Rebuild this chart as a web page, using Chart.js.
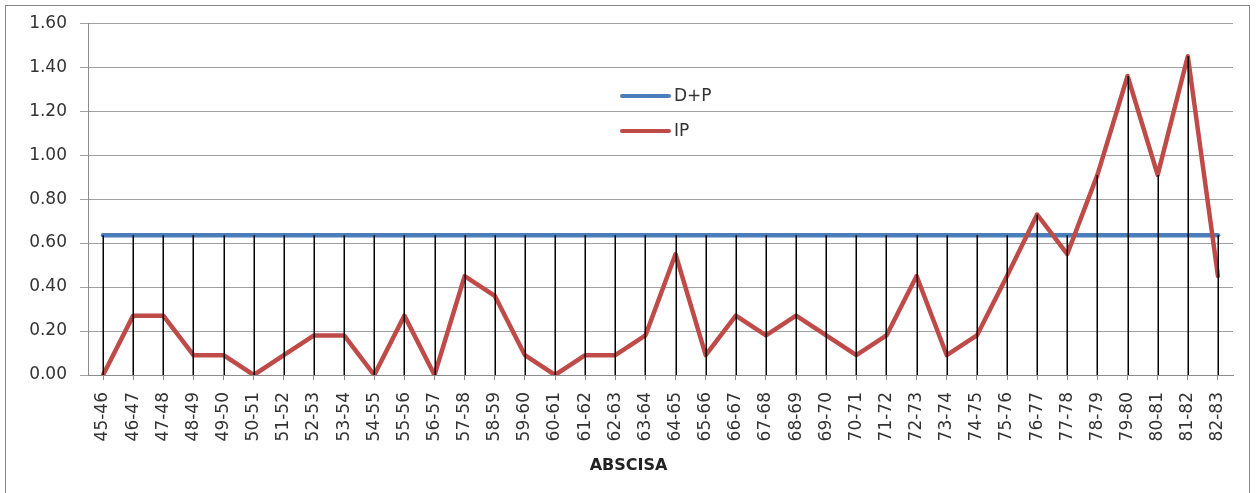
<!DOCTYPE html>
<html>
<head>
<meta charset="utf-8">
<script src="https://cdn.jsdelivr.net/npm/chart.js@4"></script>
<style>
  html, body { margin: 0; padding: 0; background: #fff; overflow: hidden; }
  #wrap { position: relative; width: 1257px; height: 493px; }
  #frame { position: absolute; left: 5px; top: 5px; width: 1243px; height: 500px; border: 1px solid #878787; }
  canvas { position: absolute; left: 0; top: 0; }
  .leg { position: absolute; left: 620px; font: 17px "DejaVu Sans", sans-serif; color: #333; }
  .leg span.sw { position: absolute; left: 0; width: 51px; height: 4px; border-radius: 2px; }
  .leg span.tx { position: absolute; left: 54px; top: -11px; white-space: nowrap; }
  #xtitle { position: absolute; top: 455px; left: 0; width: 1257px; text-align: center;
            font: bold 16px "DejaVu Sans", sans-serif; color: #222; }
</style>
</head>
<body>
<div id="wrap">
  <div id="frame"></div>
  <canvas id="abscisa" width="1257" height="493"></canvas>
  <div id="legend"></div>
  <div id="xtitle">ABSCISA</div>
</div>
<script>
// D+P frente a IP por tramo de abscisa

const tramos = [
  '45-46', '46-47', '47-48', '48-49', '49-50', '50-51', '51-52', '52-53', '53-54', '54-55',
  '55-56', '56-57', '57-58', '58-59', '59-60', '60-61', '61-62', '62-63', '63-64', '64-65',
  '65-66', '66-67', '67-68', '68-69', '69-70', '70-71', '71-72', '72-73', '73-74', '74-75',
  '75-76', '76-77', '77-78', '78-79', '79-80', '80-81', '81-82', '82-83'
];

const dp = [
  0.636, 0.636, 0.636, 0.636, 0.636, 0.636, 0.636, 0.636, 0.636, 0.636,
  0.636, 0.636, 0.636, 0.636, 0.636, 0.636, 0.636, 0.636, 0.636, 0.636,
  0.636, 0.636, 0.636, 0.636, 0.636, 0.636, 0.636, 0.636, 0.636, 0.636,
  0.636, 0.636, 0.636, 0.636, 0.636, 0.636, 0.636, 0.636
];

const ip = [
  0.00, 0.27, 0.27, 0.09, 0.09, 0.00, 0.09, 0.18, 0.18, 0.00,
  0.27, 0.00, 0.45, 0.36, 0.09, 0.00, 0.09, 0.09, 0.18, 0.55,
  0.09, 0.27, 0.18, 0.27, 0.18, 0.09, 0.18, 0.45, 0.09, 0.18,
  0.45, 0.73, 0.55, 0.91, 1.36, 0.91, 1.45, 0.45
];

const yTicks = [0, 0.2, 0.4, 0.6, 0.8, 1.0, 1.2, 1.4, 1.6];

// lineas de caida (negras) desde el punto mas alto hasta el eje
const dropLines = {
  id: 'dropLines',
  afterDatasetsDraw(chart) {
    const ctx = chart.ctx;
    const x = chart.scales.x, y = chart.scales.y;
    ctx.save();
    ctx.strokeStyle = '#000';
    ctx.lineWidth = 1.5;
    tramos.forEach((t, i) => {
      const top = Math.max(dp[i], ip[i]);
      const px = Math.round(x.getPixelForValue(i)) + 0.25;
      ctx.beginPath();
      ctx.moveTo(px, y.getPixelForValue(top));
      ctx.lineTo(px, y.getPixelForValue(0));
      ctx.stroke();
    });
    ctx.restore();
  }
};

const el = document.getElementById('abscisa');

const chart = new Chart(el, {
  type: 'line',
  data: {
    labels: tramos,
    datasets: [
      { label: 'D+P', data: dp, borderColor: '#4A7EBB', backgroundColor: '#4A7EBB', borderWidth: 4.5, order: 1 },
      { label: 'IP', data: ip, borderColor: '#BE4B48', backgroundColor: '#BE4B48', borderWidth: 4.5, order: 0 }
    ]
  },
  options: {
    responsive: false,
    animation: false,
    events: [],
    elements: {
      point: { radius: 0 },
      line: { tension: 0, borderCapStyle: 'round', borderJoinStyle: 'round' }
    },
    layout: { padding: { top: 22, right: 24, left: 0, bottom: 0 } },
    plugins: { legend: { display: false }, tooltip: { enabled: false } },
    scales: {
      x: {
        offset: true,
        grid: { display: true, drawOnChartArea: false, offset: false, color: '#8c8c8c', tickLength: 5 },
        border: { color: '#8c8c8c' },
        ticks: {
          autoSkip: false, minRotation: 90, maxRotation: 90, padding: 12,
          color: '#333', font: { family: 'DejaVu Sans', size: 17 }
        },
        afterFit(s) { s.height = 118; }
      },
      y: {
        min: 0, max: 1.6,
        afterBuildTicks(s) { s.ticks = yTicks.map(v => ({ value: v })); },
        grid: { color: '#a0a0a0', tickLength: 8 },
        border: { color: '#8c8c8c' },
        ticks: {
          padding: 13, color: '#333', font: { family: 'DejaVu Sans', size: 17 },
          callback: v => Number(v).toFixed(2)
        },
        afterFit(s) { s.width = 88; }
      }
    }
  },
  plugins: [dropLines]
});

// leyenda dentro del area del grafico
const legend = document.getElementById('legend');
[[0, 96], [1, 131]].forEach(([k, top]) => {
  const ds = chart.data.datasets[k];
  const d = document.createElement('div');
  d.className = 'leg';
  d.style.top = top + 'px';
  d.innerHTML = '<span class="sw" style="top:-2px;background:' + ds.borderColor + '"></span><span class="tx">' + ds.label + '</span>';
  legend.appendChild(d);
});
</script>
</body>
</html>
